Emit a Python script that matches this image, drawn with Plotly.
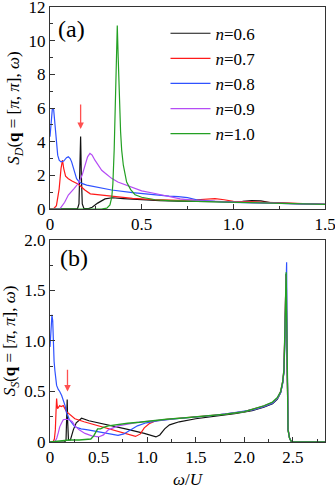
import plotly.graph_objects as go

# ---- panel (a): S_D(q=[pi,pi], w) ----
a_x_06 = [0, 0.12, 0.15, 0.158, 0.163, 0.167, 0.171, 0.176, 0.185, 0.21, 0.23, 0.26, 0.3, 0.34, 0.4, 0.5, 0.6, 0.7,
          0.8, 0.9, 1.0, 1.05, 1.1, 1.15, 1.2, 1.3, 1.4, 1.5]
a_y_06 = [0, 0, 0.02, 0.3, 2.0, 4.3, 2.0, 0.3, 0.03, 0.02, 0.1, 0.35, 0.6, 0.67, 0.62, 0.55, 0.5, 0.47,
          0.45, 0.43, 0.42, 0.45, 0.5, 0.48, 0.38, 0.33, 0.3, 0.27]

a_x_07 = [0, 0.02, 0.035, 0.05, 0.06, 0.068, 0.075, 0.085, 0.1, 0.12, 0.155, 0.19, 0.22, 0.26, 0.34, 0.45, 0.57,
          0.7, 0.8, 0.85, 0.9, 0.95, 1.0, 1.1, 1.2, 1.3, 1.4, 1.5]
a_y_07 = [0, 0.02, 0.2, 1.2, 2.4, 2.9, 2.4, 1.95, 1.8, 1.66, 1.47, 1.13, 0.9, 0.85, 0.73, 0.63, 0.56,
          0.52, 0.55, 0.6, 0.62, 0.55, 0.45, 0.42, 0.38, 0.34, 0.31, 0.28]

a_x_08 = [0, 0.007, 0.013, 0.02, 0.027, 0.035, 0.042, 0.05, 0.06, 0.075, 0.09, 0.1, 0.11, 0.118, 0.13, 0.145,
          0.16, 0.173, 0.2, 0.25, 0.336, 0.45, 0.573, 0.65, 0.7, 0.75, 0.8, 0.9, 1.0, 1.1, 1.2, 1.3, 1.4, 1.5]
a_y_08 = [4.3, 5.5, 5.98, 5.9, 5.0, 4.0, 3.2, 2.9, 2.8, 2.85, 3.05, 3.1, 3.0, 2.8, 2.3, 1.8,
          1.6, 1.52, 1.42, 1.3, 1.13, 0.97, 0.83, 0.76, 0.74, 0.68, 0.55, 0.45, 0.4, 0.37, 0.34, 0.32, 0.3, 0.28]

a_x_09 = [0, 0.04, 0.055, 0.08, 0.1, 0.13, 0.155, 0.175, 0.19, 0.205, 0.218, 0.23, 0.245, 0.265, 0.282, 0.31,
          0.336, 0.37, 0.41, 0.45, 0.5, 0.573, 0.65, 0.71, 0.8, 0.9, 1.0, 1.1, 1.2, 1.3, 1.4, 1.5]
a_y_09 = [0, 0, 0.02, 0.4, 0.83, 1.2, 1.53, 2.0, 2.6, 3.1, 3.3, 3.2, 2.9, 2.55, 2.3, 2.05,
          1.82, 1.6, 1.43, 1.28, 1.08, 0.92, 0.75, 0.6, 0.5, 0.45, 0.42, 0.38, 0.35, 0.32, 0.3, 0.28]

a_x_10 = [0, 0.28, 0.31, 0.327, 0.337, 0.343, 0.35, 0.356, 0.362, 0.367, 0.372, 0.378, 0.385, 0.391, 0.4, 0.418,
          0.44, 0.464, 0.5, 0.573, 0.65, 0.8, 1.0, 1.2, 1.4, 1.5]
a_y_10 = [0, 0, 0.05, 0.24, 0.7, 1.5, 3.5, 6.5, 9.2, 10.9, 9.0, 6.5, 4.6, 3.5, 2.6, 1.6,
          1.15, 0.85, 0.7, 0.55, 0.5, 0.45, 0.4, 0.35, 0.3, 0.28]

# ---- panel (b): S_S(q=[pi,pi], w) ----
b_x_06 = [0, 0.15, 0.165, 0.172, 0.177, 0.182, 0.19, 0.21, 0.24, 0.27, 0.3, 0.325, 0.4, 0.5, 0.63, 0.8, 0.97,
          1.05, 1.09, 1.13, 1.18, 1.23, 1.33, 1.5, 1.7, 1.9, 2.08, 2.2, 2.29, 2.34, 2.374, 2.395, 2.408, 2.415,
          2.422, 2.428, 2.434, 2.44, 2.45, 2.465, 2.48, 2.5, 2.83]
b_y_06 = [0, 0, 0.02, 0.2, 0.42, 0.2, 0.02, 0.02, 0.12, 0.19, 0.22, 0.235, 0.21, 0.19, 0.16, 0.125, 0.085,
          0.06, 0.05, 0.07, 0.13, 0.17, 0.2, 0.23, 0.255, 0.28, 0.31, 0.345, 0.38, 0.425, 0.49, 0.59, 0.7, 0.92,
          1.28, 1.66, 1.3, 0.6, 0.12, 0.04, 0.01, 0, 0]

b_x_07 = [0, 0.03, 0.045, 0.055, 0.062, 0.068, 0.072, 0.078, 0.085, 0.1, 0.115, 0.137, 0.17, 0.256, 0.35, 0.46,
          0.6, 0.73, 0.8, 0.88, 0.93, 0.97, 1.02, 1.09, 1.2, 1.4, 1.6, 1.8, 2.0, 2.1, 2.2, 2.29, 2.34, 2.374,
          2.395, 2.408, 2.415, 2.422, 2.428, 2.434, 2.44, 2.45, 2.465, 2.48, 2.5, 2.83]
b_y_07 = [0, 0, 0.03, 0.12, 0.3, 0.43, 0.38, 0.33, 0.34, 0.36, 0.35, 0.36, 0.3, 0.23, 0.2, 0.17,
          0.13, 0.1, 0.08, 0.055, 0.08, 0.14, 0.18, 0.21, 0.225, 0.24, 0.255, 0.275, 0.3, 0.325, 0.355, 0.39,
          0.435, 0.5, 0.6, 0.72, 0.94, 1.3, 1.65, 1.2, 0.6, 0.12, 0.04, 0.01, 0, 0]

b_x_08 = [0, 0.01, 0.02, 0.028, 0.034, 0.042, 0.05, 0.06, 0.068, 0.085, 0.1, 0.12, 0.137, 0.155, 0.17, 0.2,
          0.256, 0.32, 0.39, 0.5, 0.6, 0.7, 0.76, 0.83, 0.9, 0.99, 1.1, 1.3, 1.5, 1.7, 1.9, 2.1, 2.2, 2.29, 2.34,
          2.374, 2.395, 2.408, 2.415, 2.422, 2.428, 2.435, 2.44, 2.45, 2.465, 2.48, 2.5, 2.83]
b_y_08 = [0.94, 1.15, 1.26, 1.2, 0.94, 0.8, 0.71, 0.62, 0.56, 0.52, 0.5, 0.46, 0.42, 0.36, 0.29, 0.22,
          0.15, 0.13, 0.12, 0.1, 0.08, 0.065, 0.08, 0.12, 0.16, 0.19, 0.21, 0.23, 0.245, 0.265, 0.29, 0.32, 0.35,
          0.385, 0.43, 0.49, 0.58, 0.7, 0.92, 1.25, 1.6, 1.78, 0.9, 0.12, 0.04, 0.01, 0, 0]

b_x_09 = [0, 0.04, 0.055, 0.07, 0.085, 0.1, 0.12, 0.137, 0.16, 0.2, 0.23, 0.256, 0.3, 0.36, 0.43, 0.5, 0.55,
          0.6, 0.7, 0.8, 0.9, 1.0, 1.2, 1.4, 1.6, 1.8, 2.0, 2.1, 2.2, 2.29, 2.34, 2.374, 2.395, 2.408, 2.415,
          2.422, 2.428, 2.434, 2.442, 2.452, 2.465, 2.48, 2.5, 2.83]
b_y_09 = [0, 0, 0.01, 0.04, 0.09, 0.15, 0.19, 0.22, 0.225, 0.22, 0.2, 0.16, 0.12, 0.085, 0.06, 0.05, 0.07,
          0.12, 0.16, 0.18, 0.195, 0.205, 0.225, 0.24, 0.255, 0.275, 0.3, 0.325, 0.355, 0.39, 0.435, 0.5, 0.6,
          0.72, 0.94, 1.3, 1.65, 1.5, 0.7, 0.12, 0.04, 0.01, 0, 0]

b_x_10 = [0, 0.05, 0.1, 0.2, 0.3, 0.38, 0.42, 0.45, 0.47, 0.49, 0.52, 0.55, 0.6, 0.7, 0.8, 0.92, 1.0, 1.2,
          1.4, 1.6, 1.8, 2.0, 2.1, 2.2, 2.29, 2.34, 2.374, 2.395, 2.408, 2.415, 2.422, 2.43, 2.436, 2.442, 2.45,
          2.465, 2.48, 2.5, 2.83]
b_y_10 = [0, 0.005, 0.015, 0.02, 0.02, 0.025, 0.03, 0.06, 0.1, 0.13, 0.13, 0.145, 0.16, 0.175, 0.185, 0.195,
          0.205, 0.225, 0.24, 0.255, 0.275, 0.3, 0.328, 0.358, 0.395, 0.44, 0.5, 0.6, 0.72, 0.94, 1.3, 1.68,
          1.2, 0.5, 0.12, 0.04, 0.01, 0, 0]

labels = ["0.6", "0.7", "0.8", "0.9", "1.0"]
colors = ["#111111", "#ff1a1a", "#2f52ff", "#b54cf5", "#23a023"]
curves_a = [(a_x_06, a_y_06), (a_x_07, a_y_07), (a_x_08, a_y_08), (a_x_09, a_y_09), (a_x_10, a_y_10)]
curves_b = [(b_x_06, b_y_06), (b_x_07, b_y_07), (b_x_08, b_y_08), (b_x_09, b_y_09), (b_x_10, b_y_10)]

# tick labels
a_xticks = [0, 0.5, 1.0, 1.5]
a_xtext = ["0", "0.5", "1.0", "1.5"]
a_yticks = [0, 2, 4, 6, 8, 10, 12]
b_xticks = [0, 0.5, 1.0, 1.5, 2.0, 2.5]
b_xtext = ["0", "0.5", "1.0", "1.5", "2.0", "2.5"]
b_yticks = [0, 0.5, 1.0, 1.5, 2.0]
b_ytext = ["0", "0.5", "1.0", "1.5", "2.0"]

FONT = "Liberation Serif"

fig = go.Figure()
for lab, col, (x, y) in zip(labels, colors, curves_a):
    fig.add_trace(go.Scatter(x=x, y=y, mode="lines", name=f"<i>n</i>={lab}",
                             line=dict(color=col, width=1.2), xaxis="x", yaxis="y"))
for lab, col, (x, y) in zip(labels, colors, curves_b):
    fig.add_trace(go.Scatter(x=x, y=y, mode="lines", showlegend=False,
                             line=dict(color=col, width=1.4 if lab == "1.0" else 1.2),
                             xaxis="x2", yaxis="y2"))

axis_common = dict(showline=True, mirror=True, linecolor="#333333", linewidth=1, ticks="inside",
                   ticklen=5, tickcolor="#333333", showgrid=False, zeroline=False, automargin=False,
                   ticklabeloverflow="allow", tickfont=dict(family=FONT, size=17, color="black"))

fig.update_layout(
    width=335, height=492,
    margin=dict(l=50, r=10, t=7, b=50),
    paper_bgcolor="white", plot_bgcolor="white",
    font=dict(family=FONT, size=17, color="black"),
    xaxis=dict(domain=[0, 1], anchor="y", range=[0, 1.5], tickvals=a_xticks, ticktext=a_xtext,
               minor=dict(ticks="inside", ticklen=3, dtick=0.25, tickcolor="#333333"), **axis_common),
    yaxis=dict(domain=[0.5356, 1], anchor="x", range=[0, 12], tickvals=a_yticks,
               minor=dict(ticks="inside", ticklen=3, dtick=1, tickcolor="#333333"),
               title=dict(text="<i>S<sub>D</sub></i>(<b>q</b> = [<i>π</i>, <i>π</i>], <i>ω</i>)",
                          font=dict(family=FONT, size=17), standoff=4),
               **axis_common),
    xaxis2=dict(domain=[0, 1], anchor="y2", range=[0, 2.83], tickvals=b_xticks, ticktext=b_xtext,
                minor=dict(ticks="inside", ticklen=3, dtick=0.25, tickcolor="#333333"),
                title=dict(text="<i>ω</i>/<i>U</i>", font=dict(family=FONT, size=17), standoff=6),
                **axis_common),
    yaxis2=dict(domain=[0, 0.4644], anchor="x2", range=[0, 2.0], tickvals=b_yticks, ticktext=b_ytext,
                minor=dict(ticks="inside", ticklen=3, dtick=0.25, tickcolor="#333333"),
                title=dict(text="<i>S<sub>S</sub></i>(<b>q</b> = [<i>π</i>, <i>π</i>], <i>ω</i>)",
                           font=dict(family=FONT, size=17), standoff=4),
                **axis_common),
    legend=dict(x=0.42, y=0.98, xanchor="left", yanchor="top", bgcolor="rgba(0,0,0,0)",
                font=dict(family=FONT, size=17), itemwidth=40, tracegroupgap=0),
)

# panel labels
fig.add_annotation(text="(a)", xref="x domain", yref="y domain", x=0.02, y=0.89, xanchor="left",
                   yanchor="middle", showarrow=False, font=dict(family=FONT, size=24))
fig.add_annotation(text="(b)", xref="x2 domain", yref="y2 domain", x=0.03, y=0.91, xanchor="left",
                   yanchor="middle", showarrow=False, font=dict(family=FONT, size=24))

# red arrows marking the n=0.6 peak
fig.add_annotation(x=0.167, y=4.75, ax=0.167, ay=6.3, xref="x", yref="y", axref="x", ayref="y",
                   text="", showarrow=True, arrowhead=2, arrowsize=1, arrowwidth=1.3, arrowcolor="#ff5050")
fig.add_annotation(x=0.18, y=0.5, ax=0.18, ay=0.73, xref="x2", yref="y2", axref="x2", ayref="y2",
                   text="", showarrow=True, arrowhead=2, arrowsize=1, arrowwidth=1.3, arrowcolor="#ff5050")

# the page body has a default 8px margin; drop it so the figure fills the window
fig.write_html("out.html", config={"displayModeBar": False},
               post_script="document.body.style.margin='0';")
